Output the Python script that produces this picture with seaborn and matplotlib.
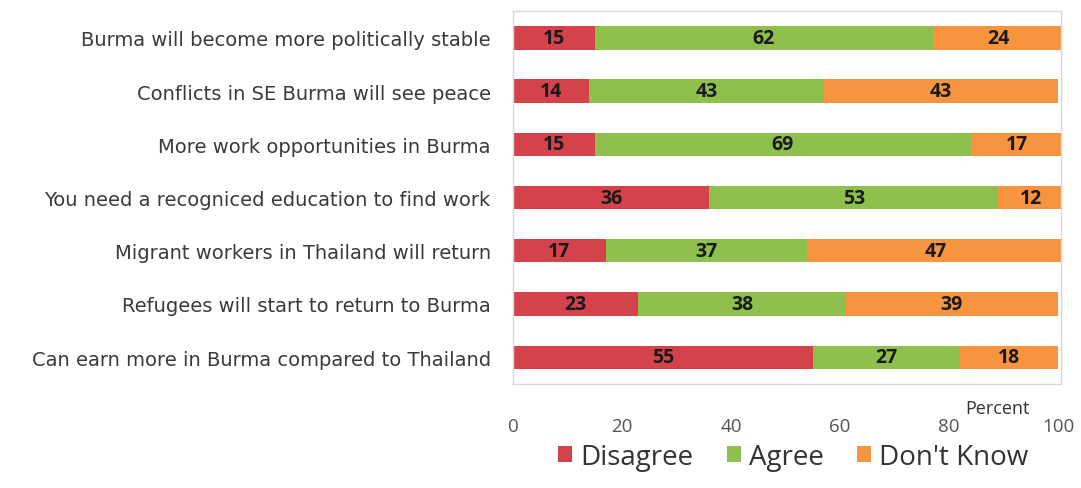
import matplotlib
matplotlib.use("Agg")
import matplotlib.pyplot as plt
import numpy as np
import pandas as pd
import seaborn as sns
from matplotlib.patches import Patch

statements = [
    "Burma will become more politically stable",
    "Conflicts in SE Burma will see peace",
    "More work opportunities in Burma",
    "You need a recogniced education to find work",
    "Migrant workers in Thailand will return",
    "Refugees will start to return to Burma",
    "Can earn more in Burma compared to Thailand",
]
disagree = [15, 14, 15, 36, 17, 23, 55]
agree = [62, 43, 69, 53, 37, 38, 27]
dont_know = [24, 43, 17, 12, 47, 39, 18]

series_names = ["Disagree", "Agree", "Don't Know"]
colors = ["#d4434c", "#8fc04e", "#f79440"]

df = pd.DataFrame({"statement": statements, "Disagree": disagree,
                   "Agree": agree, "Don't Know": dont_know})
cum = df[series_names].cumsum(axis=1)

sns.set_theme(style="white")
plt.rcParams["font.family"] = ["Open Sans", "DejaVu Sans"]

fig = plt.figure(figsize=(10.81, 4.89), dpi=100)
ax = fig.add_axes([0.4745, 0.213, 0.507, 0.762])

# stacked bars: draw cumulative totals from widest to narrowest
for name, col in zip(reversed(series_names), reversed(colors)):
    sns.barplot(x=cum[name], y=df["statement"], orient="h", color=col,
                width=0.44, saturation=1, linewidth=0, ax=ax)

for i, row in df.iterrows():
    left = 0
    for name in series_names:
        v = row[name]
        ax.text(left + v / 2, i, str(v), ha="center", va="center",
                fontsize=14, fontweight="bold", color="#1a1a1a")
        left += v

ax.set_xlim(0, 100.5)
ax.set_ylim(6.5, -0.5)
ax.set_xticks([0, 20, 40, 60, 80, 100])
ax.set_xlabel("")
ax.set_ylabel("")
ax.tick_params(axis="x", length=0, pad=24, labelsize=13.5, labelcolor="#555555")
ax.tick_params(axis="y", length=0, pad=16, labelcolor="#3a3a3a")
for lab in ax.get_yticklabels():
    lab.set_fontfamily("DejaVu Sans")
    lab.set_fontsize(14)
for s in ax.spines.values():
    s.set_color("#d9d9d9")
    s.set_linewidth(1)

fig.text(0.923, 0.163, "Percent", ha="center", va="center", fontsize=13,
         color="#333333")

handles = [Patch(facecolor=c, edgecolor="none") for c in colors]
fig.legend(handles, series_names, loc="center", bbox_to_anchor=(0.734, 0.063),
           ncol=3, frameon=False, fontsize=20, handlelength=0.5,
           handleheight=0.5, handletextpad=0.3, columnspacing=1.2,
           labelcolor="#333333")

fig.savefig("out.png", dpi=100)
